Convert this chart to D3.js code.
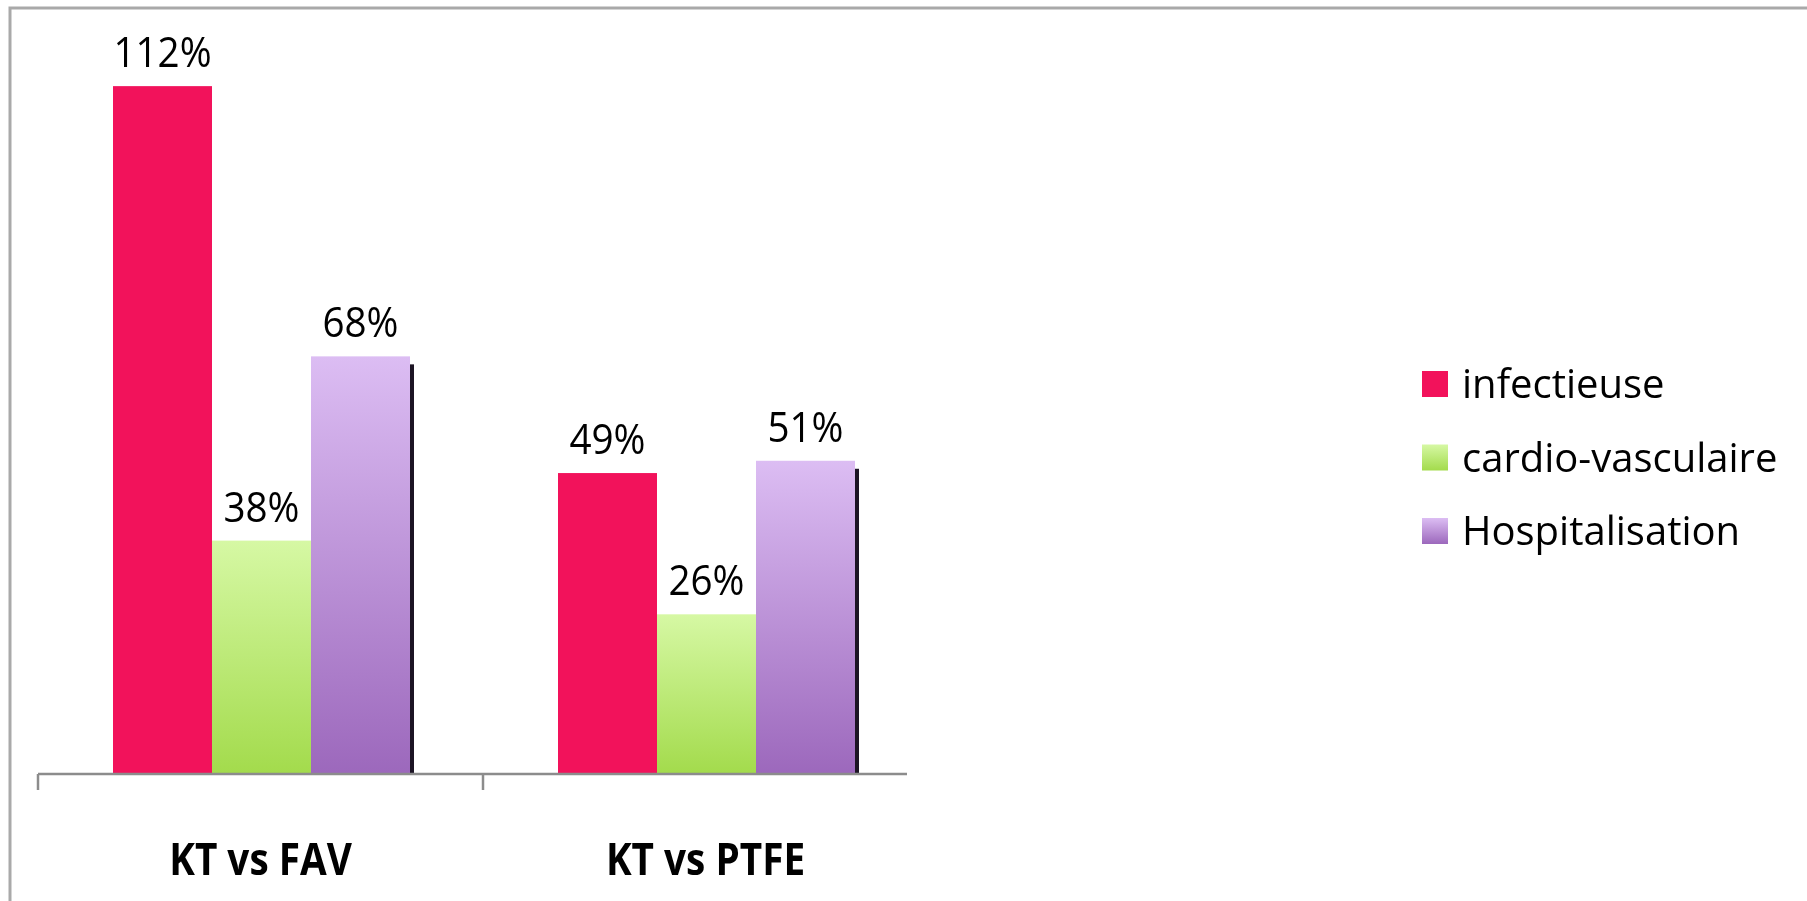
<!DOCTYPE html>
<html>
<head>
<meta charset="utf-8">
<script src="https://cdn.jsdelivr.net/npm/d3@7"></script>
<style>
  html, body { margin: 0; padding: 0; background: #fff; overflow: hidden; width: 100%; height: 100%; }
  #chart { position: fixed; top: 0; left: 0; display: block; }
  text { font-family: "Open Sans", "Noto Sans", sans-serif; fill: #000; }
</style>
</head>
<body>
<svg id="chart" width="1807" height="901"></svg>
<script>
// Categories and series
const categories = ["KT vs FAV", "KT vs PTFE"];
const seriesNames = ["infectieuse", "cardio-vasculaire", "Hospitalisation"];

// Values (%) per series, one per category
const infectieuse = [112, 49];
const cardioVasculaire = [38, 26];
const hospitalisation = [68, 51];

const seriesValues = [infectieuse, cardioVasculaire, hospitalisation];

const svg = d3.select("#chart");

// gradients for the green and purple series
const defs = svg.append("defs");
function vGrad(id, top, bottom) {
  const g = defs.append("linearGradient").attr("id", id)
    .attr("x1", 0).attr("y1", 0).attr("x2", 0).attr("y2", 1);
  g.append("stop").attr("offset", "0%").attr("stop-color", top);
  g.append("stop").attr("offset", "100%").attr("stop-color", bottom);
}
vGrad("gGreen", "#d6f8a4", "#a3db4c");
vGrad("gPurple", "#dcbdf3", "#9c68bc");
const fills = ["#f2125b", "url(#gGreen)", "url(#gPurple)"];

// frame: only the top and left edges fall inside the view
svg.append("path")
  .attr("d", "M10,901V8H1807")
  .attr("fill", "none").attr("stroke", "#a9a9a9").attr("stroke-width", 3);

// scales
const x0 = d3.scaleBand().domain(categories).range([38, 928]);
const x1 = d3.scaleBand().domain(seriesNames).range([75, 372]);
const y = d3.scaleLinear().domain([0, 120]).range([774, 37]);

// bars
const groups = svg.append("g").selectAll("g")
  .data(categories)
  .join("g")
  .attr("transform", d => `translate(${x0(d)},0)`);

groups.each(function(cat, ci) {
  const g = d3.select(this);
  seriesNames.forEach((s, si) => {
    const v = seriesValues[si][ci];
    const bx = x1(s), bw = x1.bandwidth();
    if (si === 2) {
      // dark edge on the right side of the purple bars
      g.append("rect")
        .attr("x", bx + bw - 1).attr("y", y(v) + 8)
        .attr("width", 5).attr("height", y(0) - y(v) - 8)
        .attr("fill", "#1c1424");
    }
    g.append("rect")
      .attr("x", bx).attr("y", y(v))
      .attr("width", bw).attr("height", y(0) - y(v))
      .attr("fill", fills[si]);
    g.append("text")
      .attr("transform", `translate(${bx + bw / 2},${y(v) - 19}) scale(0.92,1)`)
      .attr("text-anchor", "middle")
      .attr("font-size", 42)
      .text(v + "%");
  });
});

// category axis
const axis = svg.append("g");
axis.append("line")
  .attr("x1", x0.range()[0]).attr("x2", 907)
  .attr("y1", y(0)).attr("y2", y(0))
  .attr("stroke", "#8c8c8c").attr("stroke-width", 2.5);
axis.selectAll("line.tick")
  .data(categories)
  .join("line")
  .attr("class", "tick")
  .attr("x1", d => x0(d)).attr("x2", d => x0(d))
  .attr("y1", y(0)).attr("y2", y(0) + 16)
  .attr("stroke", "#8c8c8c").attr("stroke-width", 2.5);
axis.selectAll("text")
  .data(categories)
  .join("text")
  .attr("transform", d => `translate(${x0(d) + x0.bandwidth() / 2},875) scale(0.88,1)`)
  .attr("text-anchor", "middle")
  .attr("font-size", 44)
  .attr("font-weight", "bold")
  .text(d => d);

// legend
const legend = svg.append("g").attr("transform", "translate(1422,371)");
const li = legend.selectAll("g")
  .data(seriesNames)
  .join("g")
  .attr("transform", (d, i) => `translate(0,${i * 73.5})`);
li.append("rect")
  .attr("width", 26).attr("height", 26)
  .attr("fill", (d, i) => fills[i]);
li.append("text")
  .attr("x", 40).attr("y", 27)
  .attr("font-size", 40)
  .text(d => d);
</script>
</body>
</html>
